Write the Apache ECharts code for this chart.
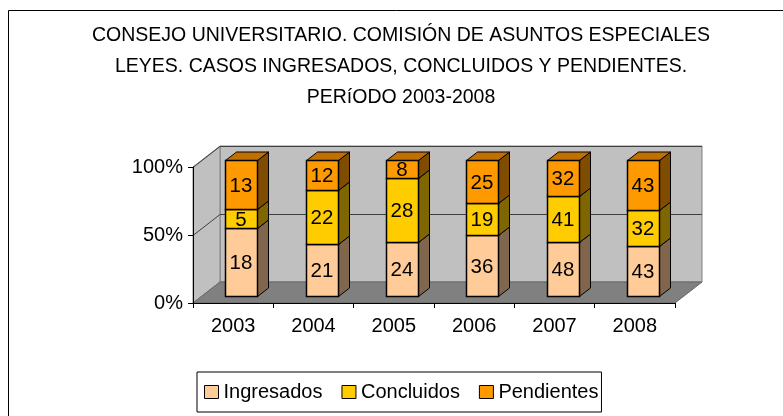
<!DOCTYPE html>
<html>
<head>
<meta charset="utf-8">
<script src="https://cdn.jsdelivr.net/npm/echarts@6/dist/echarts.min.js"></script>
<style>
  html, body { margin: 0; padding: 0; background: #fff; }
  #chart { width: 783px; height: 416px; }
</style>
</head>
<body>
<div id="chart"></div>
<script>
var years = ['2003', '2004', '2005', '2006', '2007', '2008'];
var ingresados = [18, 21, 24, 36, 48, 43];
var concluidos = [5, 22, 28, 19, 41, 32];
var pendientes = [13, 12, 8, 25, 32, 43];
var yTicks = [0, 50, 100];

var FONT = '"Liberation Sans", Arial, sans-serif';
// depth of the fake 3d box
var DX = 27, DY = -21;
// bar front offset and bar depth
var OX = 8, OY = -7, BDX = 11, BDY = -8.5, BW = 32;

// turn raw counts into stacked percent segments [cat, start, end, raw]
function stackPct(idx) {
  var all = [ingresados, concluidos, pendientes];
  return years.map(function (y, i) {
    var tot = ingresados[i] + concluidos[i] + pendientes[i];
    var start = 0;
    for (var k = 0; k < idx; k++) start += all[k][i] / tot * 100;
    var end = start + all[idx][i] / tot * 100;
    return [i, start, end, all[idx][i]];
  });
}

function renderWalls(params, api) {
  var cs = params.coordSys;
  var x0 = cs.x, x1 = cs.x + cs.width, yT = cs.y, yB = cs.y + cs.height;
  var kids = [
    { type: 'polygon', shape: { points: [[x0 + DX, yT + DY], [x1 + DX, yT + DY], [x1 + DX, yB + DY], [x0 + DX, yB + DY]] },
      style: { fill: '#c0c0c0', stroke: '#808080', lineWidth: 1 } },
    { type: 'polygon', shape: { points: [[x0, yT], [x0 + DX, yT + DY], [x0 + DX, yB + DY], [x0, yB]] },
      style: { fill: '#c0c0c0', stroke: '#808080', lineWidth: 1 } },
    { type: 'polygon', shape: { points: [[x0, yB], [x1, yB], [x1 + DX, yB + DY], [x0 + DX, yB + DY]] },
      style: { fill: '#808080', stroke: '#666', lineWidth: 1 } }
  ];
  yTicks.forEach(function (v) {
    if (v === 0) return;
    var y = Math.round(api.coord([0, v])[1]) + 0.5;
    kids.push({ type: 'polyline', shape: { points: [[x0, y], [x0 + DX, y + DY], [x1 + DX, y + DY]] },
      style: { stroke: '#404040', lineWidth: 1, fill: null } });
  });
  return { type: 'group', children: kids };
}

function makeBar(front, side, top, isTop) {
  return function (params, api) {
    var i = api.value(0);
    var b = api.coord([i, api.value(1)]);
    var e = api.coord([i, api.value(2)]);
    var cx = Math.round(b[0] + OX);
    var yb = Math.round(b[1] + OY) + 0.5, yt = Math.round(e[1] + OY) + 0.5;
    var xl = cx - BW / 2 + 0.5, xr = cx + BW / 2 + 0.5;
    var kids = [
      { type: 'polygon', shape: { points: [[xr, yt], [xr + BDX, yt + BDY], [xr + BDX, yb + BDY], [xr, yb]] },
        style: { fill: side, stroke: '#000', lineWidth: 1 } }
    ];
    if (isTop) {
      kids.push({ type: 'polygon', shape: { points: [[xl, yt], [xl + BDX, yt + BDY], [xr + BDX, yt + BDY], [xr, yt]] },
        style: { fill: top, stroke: '#000', lineWidth: 1 } });
    }
    kids.push({ type: 'rect', shape: { x: xl, y: yt, width: BW, height: yb - yt },
      style: { fill: front, stroke: '#000', lineWidth: 1.5 } });
    kids.push({ type: 'text', x: cx, y: (yt + yb) / 2 + 1,
      style: { text: String(api.value(3)), fill: '#000', fontSize: 20.5, fontFamily: FONT, align: 'center', verticalAlign: 'middle' } });
    return { type: 'group', children: kids };
  };
}

var chart = echarts.init(document.getElementById('chart'));
chart.setOption({
  backgroundColor: '#fff',
  animation: false,
  title: {
    text: 'CONSEJO UNIVERSITARIO. COMISIÓN DE ASUNTOS ESPECIALES\nLEYES. CASOS INGRESADOS, CONCLUIDOS Y PENDIENTES.\nPERíODO 2003-2008',
    left: 401, top: 20, padding: 0, textAlign: 'center',
    textStyle: { fontSize: 19.5, fontWeight: 'normal', color: '#000', fontFamily: FONT, lineHeight: 31 }
  },
  graphic: [
    { type: 'rect', z: -10, shape: { x: 8.5, y: 10.5, width: 900, height: 600 },
      style: { fill: null, stroke: '#000', lineWidth: 1 } }
  ],
  legend: {
    data: ['Ingresados', 'Concluidos', 'Pendientes'],
    left: 197, top: 372,
    padding: [10, 3, 10, 7],
    borderColor: '#000', borderWidth: 1,
    icon: 'rect', itemWidth: 14, itemHeight: 13, itemGap: 19,
    itemStyle: { borderColor: '#000', borderWidth: 1 },
    textStyle: { fontSize: 20, color: '#000', fontFamily: FONT }
  },
  grid: { left: 193, right: 108, top: 167, bottom: 113 },
  xAxis: {
    type: 'category', data: years, z: 10,
    axisLine: { lineStyle: { color: '#000', width: 1 } },
    axisTick: { show: true, length: 5, lineStyle: { color: '#000' } },
    axisLabel: { fontSize: 20, color: '#000', fontFamily: FONT, margin: 13 },
    splitLine: { show: false }
  },
  yAxis: {
    type: 'value', min: 0, max: 100, interval: 50, z: 10,
    axisLine: { show: true, lineStyle: { color: '#000', width: 1 } },
    axisTick: { show: true, length: 5, lineStyle: { color: '#000' } },
    axisLabel: { fontSize: 20, color: '#000', fontFamily: FONT, formatter: '{value}%', margin: 10 },
    splitLine: { show: false }
  },
  series: [
    { name: 'walls', type: 'custom', z: 1, silent: true, renderItem: renderWalls,
      data: [[0, 0]], encode: { x: 0, y: 1 } },
    { name: 'Ingresados', type: 'custom', z: 2, itemStyle: { color: '#FFCC99' },
      renderItem: makeBar('#FFCC99', '#80664D', '#CCA37A', false),
      data: stackPct(0), encode: { x: 0, y: [1, 2] } },
    { name: 'Concluidos', type: 'custom', z: 3, itemStyle: { color: '#FFCC00' },
      renderItem: makeBar('#FFCC00', '#806600', '#CCA300', false),
      data: stackPct(1), encode: { x: 0, y: [1, 2] } },
    { name: 'Pendientes', type: 'custom', z: 4, itemStyle: { color: '#FF9900' },
      renderItem: makeBar('#FF9900', '#804C00', '#C07000', true),
      data: stackPct(2), encode: { x: 0, y: [1, 2] } }
  ]
});
</script>
</body>
</html>
